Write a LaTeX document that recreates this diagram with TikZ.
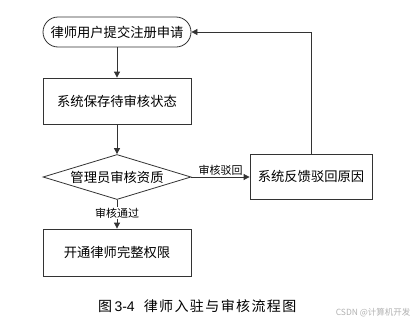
\documentclass[tikz,border=0pt]{standalone}
\usepackage{fontspec}
\newfontfamily\cjk{Noto Sans CJK SC}
\newfontfamily\lsans{Liberation Sans}
\usetikzlibrary{shapes.geometric,arrows.meta}
\newcommand{\cg}{\hspace{1.4pt}}
\begin{document}
\begin{tikzpicture}[x=1pt,y=-1pt,
  box/.style={draw=black!80,line width=0.8pt,minimum width=148pt,minimum height=46pt,inner sep=0pt,font=\cjk\fontsize{13.3}{15}\selectfont},
  startbox/.style={draw=black!80,line width=0.8pt,rounded corners=15pt,minimum width=148pt,minimum height=30pt,inner sep=0pt,font=\cjk\fontsize{13.3}{15}\selectfont},
  decision/.style={draw=black!80,line width=0.8pt,diamond,aspect=3.3,minimum width=148pt,minimum height=45pt,inner sep=0pt,font=\cjk\fontsize{13.3}{15}\selectfont},
  flow/.style={draw=black!80,line width=0.8pt,-{Triangle[length=6pt,width=6pt]}},
  lbl/.style={font=\cjk\fontsize{11}{12}\selectfont,inner sep=1pt}]
\useasboundingbox (0,0) rectangle (417,327);
\fill[white] (0,0) rectangle (417,327);
\node[startbox] (s) at (117,32) {律师用户提交注册申请};
\node[box] (a) at (117,101) {系统保存待审核状态};
\node[decision] (d) at (117,177) {管理员审核资质};
\node[box,minimum width=122pt,minimum height=45pt] (r) at (311,176.5) {系统反馈驳回原因};
\node[box,minimum height=47pt] (g) at (117,252.5) {开通律师完整权限};
\draw[flow] (s) -- (a);
\draw[flow] (a) -- (d);
\draw[flow] (d.east) -- node[lbl,above] {审核驳回} (d.east -| r.west);
\draw[flow] (d.south) -- node[lbl,pos=0.45,fill=white] {审核通过} (g.north);
\draw[flow] (r.north) |- (s.east);
\node[font=\cjk\fontsize{14}{16}\selectfont,anchor=west,inner sep=0pt] (cap) at (98,306) {图\,{\lsans 3-4}\hspace{9pt}律\cg 师\cg 入\cg 驻\cg 与\cg 审\cg 核\cg 流\cg 程\cg 图};
\node[font=\cjk\fontsize{8.5}{10}\selectfont,text=black!30,anchor=east] (wm) at (414,313) {CSDN @计算机开发};
\end{tikzpicture}
\end{document}
